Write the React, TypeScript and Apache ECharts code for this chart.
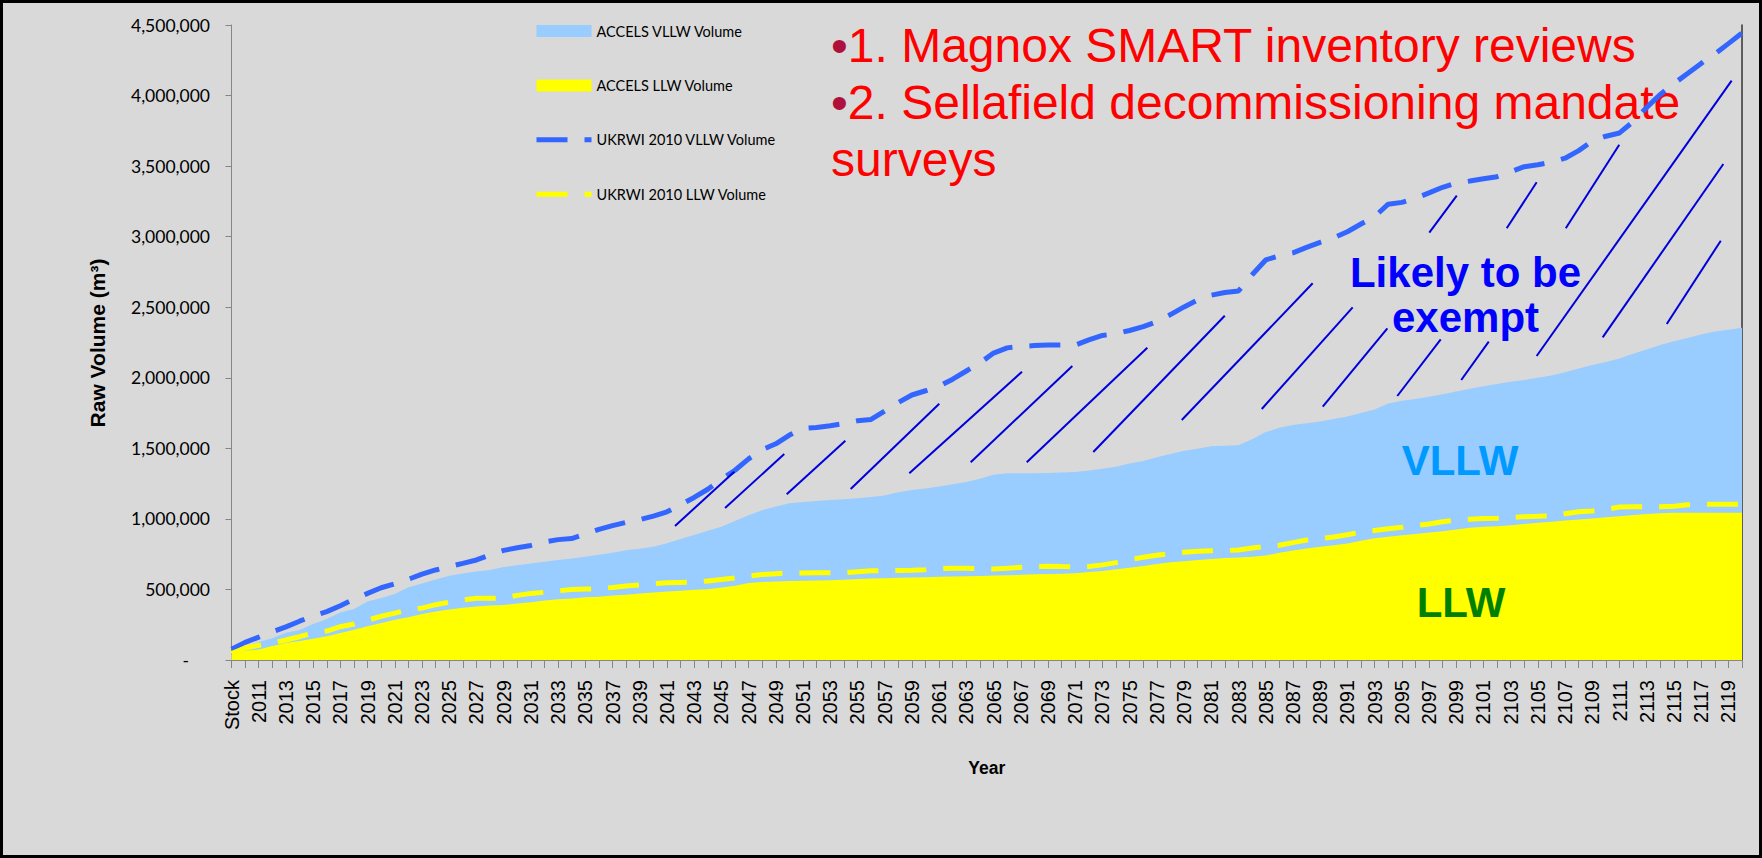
import React, { useEffect, useRef } from 'react';
import * as echarts from 'echarts';

// Categories: stock, then 2010 .. 2120
const years: string[] = [];
for (let y = 2010; y <= 2120; y++) years.push(String(y));
const categories = ['Stock', ...years];

// Values in thousands of m3
const UNIT = 1000;
const accelsVllwK = [
  47, 94, 127, 155, 193, 212, 255, 290, 336, 362,
  414, 440, 468, 515, 543, 571, 597, 613, 627, 637,
  659, 672, 684, 697, 709, 720, 731, 745, 760, 778,
  788, 803, 828, 857, 885, 916, 945, 985, 1025, 1062,
  1088, 1110, 1120, 1127, 1133, 1140, 1147, 1155, 1165, 1188,
  1205, 1216, 1230, 1245, 1262, 1285, 1312, 1323, 1323, 1324,
  1326, 1329, 1333, 1343, 1355, 1370, 1393, 1410, 1436, 1460,
  1482, 1497, 1515, 1518, 1522, 1565, 1615, 1645, 1665, 1677,
  1690, 1707, 1726, 1750, 1775, 1818, 1838, 1850, 1866, 1884,
  1903, 1922, 1940, 1956, 1972, 1985, 2001, 2017, 2040, 2066,
  2090, 2112, 2136, 2170, 2200, 2233, 2258, 2282, 2307, 2328,
  2340, 2355,
];
const accelsLlwK = [
  35, 66, 74, 100, 120, 135, 150, 168, 192, 215,
  240, 263, 286, 303, 326, 343, 358, 370, 379, 387,
  390, 401, 410, 422, 430, 436, 445, 449, 457, 463,
  472, 478, 486, 491, 498, 502, 513, 527, 545, 552,
  556, 559, 561, 563, 566, 569, 574, 578, 580, 582,
  584, 587, 590, 592, 594, 596, 598, 600, 604, 608,
  610, 612, 615, 623, 631, 643, 653, 667, 680, 693,
  700, 708, 716, 722, 727, 731, 740, 760, 776, 791,
  803, 813, 826, 845, 863, 873, 884, 893, 903, 912,
  925, 938, 944, 948, 955, 964, 972, 980, 988, 995,
  1003, 1011, 1018, 1027, 1034, 1040, 1044, 1044, 1044, 1044,
  1044, 1044,
];
const ukrwiVllwK = [
  76, 125, 162, 200, 235, 275, 312, 343, 385, 430,
  472, 512, 540, 572, 608, 638, 662, 685, 709, 745,
  777, 795, 812, 836, 853, 861, 893, 926, 952, 975,
  995, 1020, 1050, 1100, 1152, 1210, 1280, 1345, 1425, 1490,
  1532, 1594, 1640, 1648, 1660, 1675, 1695, 1705, 1765, 1825,
  1878, 1908, 1940, 1990, 2048, 2105, 2175, 2212, 2222, 2228,
  2232, 2232, 2232, 2268, 2300, 2313, 2335, 2362, 2398, 2448,
  2502, 2552, 2585, 2604, 2615, 2730, 2835, 2865, 2885, 2924,
  2960, 2992, 3035, 3090, 3142, 3230, 3243, 3272, 3310, 3350,
  3380, 3394, 3410, 3425, 3460, 3496, 3510, 3528, 3556, 3610,
  3678, 3712, 3735, 3815, 3916, 4008, 4085, 4156, 4228, 4295,
  4368, 4443,
];
const ukrwiLlwK = [
  45, 85, 104, 120, 142, 165, 192, 205, 236, 255,
  282, 310, 332, 356, 368, 392, 410, 425, 437, 438,
  439, 458, 472, 480, 490, 500, 503, 505, 514, 524,
  532, 540, 547, 550, 553, 560, 570, 582, 595, 606,
  612, 616, 617, 618, 618, 618, 625, 632, 632, 634,
  636, 640, 648, 650, 650, 648, 645, 650, 657, 663,
  664, 662, 661, 662, 674, 690, 710, 728, 742, 755,
  763, 770, 775, 775, 780, 794, 805, 813, 832, 850,
  860, 872, 888, 906, 918, 930, 940, 952, 964, 980,
  990, 998, 1002, 1004, 1008, 1016, 1018, 1022, 1037, 1050,
  1056, 1068, 1084, 1086, 1086, 1086, 1090, 1100, 1103, 1103,
  1103, 1103,
];

// Hand-drawn hatching, in data space: [categoryIndex1, value1, categoryIndex2, value2]
const hatchSegments: number[][] = [
  [32.59, 949600, 36.95, 1334400],
  [36.27, 1077200, 40.62, 1459800],
  [40.8, 1174200, 45.11, 1554100],
  [45.5, 1211800, 52.01, 1816300],
  [49.81, 1323100, 58.09, 2043100],
  [54.32, 1401000, 61.79, 2083500],
  [58.44, 1401000, 67.3, 2213200],
  [63.33, 1474000, 72.99, 2439900],
  [69.83, 1700800, 79.45, 2669500],
  [75.71, 1778700, 82.39, 2499500],
  [80.19, 1795000, 84.94, 2350600],
  [85.67, 1870900, 88.86, 2272700],
  [90.37, 1984200, 92.39, 2255700],
  [88.02, 3028100, 90.04, 3290300],
  [93.71, 3059300, 95.91, 3385300],
  [98.05, 3059300, 101.98, 3651800],
  [95.91, 2154300, 110.24, 4105300],
  [100.76, 2286800, 109.63, 3515000],
  [105.47, 2381100, 109.44, 2971500],
];

const yTicks = { min: 0, max: 4500000, interval: 500000 };

const seriesNames = [
  'ACCELS VLLW Volume',
  'ACCELS LLW Volume',
  'UKRWI 2010 VLLW Volume',
  'UKRWI 2010 LLW Volume',
];

const HUMAN = "Lato, 'Liberation Sans', sans-serif";
const SANS = "'Liberation Sans', Arial, sans-serif";
const DASH = [31, 17];

function fmt(v: number): string {
  if (v === 0) return '{z|-}';
  return String(v).replace(/\B(?=(\d{3})+(?!\d))/g, ',');
}

export default function App() {
  const ref = useRef<HTMLDivElement>(null);
  useEffect(() => {
    if (!ref.current) return;
    const chart = echarts.init(ref.current, null, { renderer: 'svg' });
    const toVals = (arr: number[]) => arr.map((v) => v * UNIT);
    const option: any = {
      animation: false,
      backgroundColor: '#d9d9d9',
      grid: { left: 231.5, right: 20, top: 25, bottom: 198, containLabel: false },
      legend: {
        orient: 'vertical',
        left: 534,
        top: 22,
        padding: 0,
        itemWidth: 55,
        itemHeight: 12,
        itemGap: 36.4,
        textStyle: { color: '#000', fontFamily: HUMAN, fontSize: 14.5, lineHeight: 18 },
        data: [
          { name: seriesNames[0], icon: 'rect' },
          { name: seriesNames[1], icon: 'rect' },
          {
            name: seriesNames[2],
            itemStyle: { opacity: 0 },
            lineStyle: { width: 5, type: DASH, color: '#3366ff', cap: 'butt', opacity: 1 },
          },
          {
            name: seriesNames[3],
            itemStyle: { opacity: 0 },
            lineStyle: { width: 5, type: DASH, color: '#ffff00', cap: 'butt', opacity: 1 },
          },
        ],
      },
      xAxis: [
        {
          type: 'category',
          data: categories,
          boundaryGap: false,
          name: 'Year',
          nameLocation: 'middle',
          nameGap: 99,
          nameTextStyle: { color: '#000', fontFamily: SANS, fontWeight: 'bold', fontSize: 17.5 },
          axisLine: { show: true, lineStyle: { color: '#868686', width: 1 } },
          axisTick: { show: true, interval: 0, length: 8, lineStyle: { color: '#868686' } },
          axisLabel: { interval: 1, rotate: 90, margin: 20, color: '#000', fontFamily: SANS, fontSize: 20 },
          splitLine: { show: false },
        },
        { type: 'value', min: 0, max: 111, show: false },
      ],
      yAxis: [
        {
          type: 'value',
          min: yTicks.min,
          max: yTicks.max,
          interval: yTicks.interval,
          axisLine: { show: true, lineStyle: { color: '#868686', width: 1 } },
          axisTick: { show: true, length: 6, lineStyle: { color: '#868686' } },
          axisLabel: {
            formatter: fmt,
            margin: 21.5,
            color: '#000',
            fontFamily: HUMAN,
            fontSize: 17.5,
            rich: { z: { padding: [0, 21, 0, 0], color: '#000', fontFamily: HUMAN, fontSize: 17.5 } },
          },
          splitLine: { show: false },
        },
        {
          type: 'value',
          position: 'right',
          min: yTicks.min,
          max: yTicks.max,
          interval: yTicks.interval,
          axisLine: { show: true, lineStyle: { color: '#333', width: 1.5 } },
          axisTick: { show: false },
          axisLabel: { show: false },
          splitLine: { show: false },
        },
      ],
      series: [
        {
          name: seriesNames[0],
          type: 'line',
          data: toVals(accelsVllwK),
          color: '#99ccff',
          symbol: 'none',
          showSymbol: false,
          lineStyle: { width: 0 },
          areaStyle: { color: '#99ccff', opacity: 1 },
          z: 2,
        },
        {
          name: seriesNames[1],
          type: 'line',
          data: toVals(accelsLlwK),
          color: '#ffff00',
          symbol: 'none',
          showSymbol: false,
          lineStyle: { width: 0 },
          areaStyle: { color: '#ffff00', opacity: 1 },
          z: 2,
        },
        {
          name: seriesNames[2],
          type: 'line',
          data: toVals(ukrwiVllwK),
          color: '#3366ff',
          symbol: 'none',
          showSymbol: false,
          lineStyle: { width: 5, color: '#3366ff', type: DASH, cap: 'butt' },
          z: 3,
        },
        {
          name: seriesNames[3],
          type: 'line',
          data: toVals(ukrwiLlwK),
          color: '#ffff00',
          symbol: 'none',
          showSymbol: false,
          lineStyle: { width: 5, color: '#ffff00', type: DASH, cap: 'butt' },
          z: 3,
        },
        {
          name: 'hatch',
          type: 'lines',
          coordinateSystem: 'cartesian2d',
          xAxisIndex: 1,
          yAxisIndex: 0,
          silent: true,
          lineStyle: { color: '#0000dd', width: 2, opacity: 1 },
          data: hatchSegments.map((s) => ({ coords: [[s[0], s[1]], [s[2], s[3]]] })),
          z: 4,
        },
      ],
      graphic: [
        {
          type: 'rect',
          z: 0,
          silent: true,
          shape: { x: 1.5, y: 1.5, width: 1759, height: 855 },
          style: { fill: 'none', stroke: '#000', lineWidth: 3 },
        },
        {
          type: 'text',
          z: 1,
          x: 97,
          y: 343,
          rotation: Math.PI / 2,
          style: {
            text: 'Raw Volume (m³)',
            fill: '#000',
            fontFamily: SANS,
            fontWeight: 'bold',
            fontSize: 21,
            align: 'center',
            verticalAlign: 'middle',
          },
        },
        {
          type: 'text',
          z: 1,
          x: 831,
          y: 45,
          style: {
            text: '{b|•}1. Magnox SMART inventory reviews',
            fill: '#ff0000',
            fontFamily: SANS,
            fontSize: 48,
            align: 'left',
            verticalAlign: 'middle',
            rich: { b: { fill: '#b0103c', color: '#b0103c', fontFamily: SANS, fontSize: 48 } },
          },
        },
        {
          type: 'text',
          z: 1,
          x: 831,
          y: 102,
          style: {
            text: '{b|•}2. Sellafield decommissioning mandate',
            fill: '#ff0000',
            fontFamily: SANS,
            fontSize: 48,
            align: 'left',
            verticalAlign: 'middle',
            rich: { b: { fill: '#b0103c', color: '#b0103c', fontFamily: SANS, fontSize: 48 } },
          },
        },
        {
          type: 'text',
          z: 1,
          x: 831,
          y: 159,
          style: {
            text: 'surveys',
            fill: '#ff0000',
            fontFamily: SANS,
            fontSize: 48,
            align: 'left',
            verticalAlign: 'middle',
          },
        },
        {
          type: 'text',
          z: 100,
          x: 1465.5,
          y: 272,
          style: {
            text: 'Likely to be',
            fill: '#0000ff',
            fontFamily: SANS,
            fontWeight: 'bold',
            fontSize: 42,
            align: 'center',
            verticalAlign: 'middle',
          },
        },
        {
          type: 'text',
          z: 100,
          x: 1465.5,
          y: 317,
          style: {
            text: 'exempt',
            fill: '#0000ff',
            fontFamily: SANS,
            fontWeight: 'bold',
            fontSize: 42,
            align: 'center',
            verticalAlign: 'middle',
          },
        },
        {
          type: 'text',
          z: 100,
          x: 1460,
          y: 460.8,
          style: {
            text: 'VLLW',
            fill: '#0099ff',
            fontFamily: SANS,
            fontWeight: 'bold',
            fontSize: 42,
            align: 'center',
            verticalAlign: 'middle',
          },
        },
        {
          type: 'text',
          z: 100,
          x: 1461,
          y: 602.4,
          style: {
            text: 'LLW',
            fill: '#008000',
            fontFamily: SANS,
            fontWeight: 'bold',
            fontSize: 42,
            align: 'center',
            verticalAlign: 'middle',
          },
        },
      ],
    };
    chart.setOption(option);
    return () => chart.dispose();
  }, []);
  return (
    <div
      ref={ref}
      style={{ position: 'fixed', left: 0, top: 0, width: 1762, height: 858 }}
    />
  );
}
